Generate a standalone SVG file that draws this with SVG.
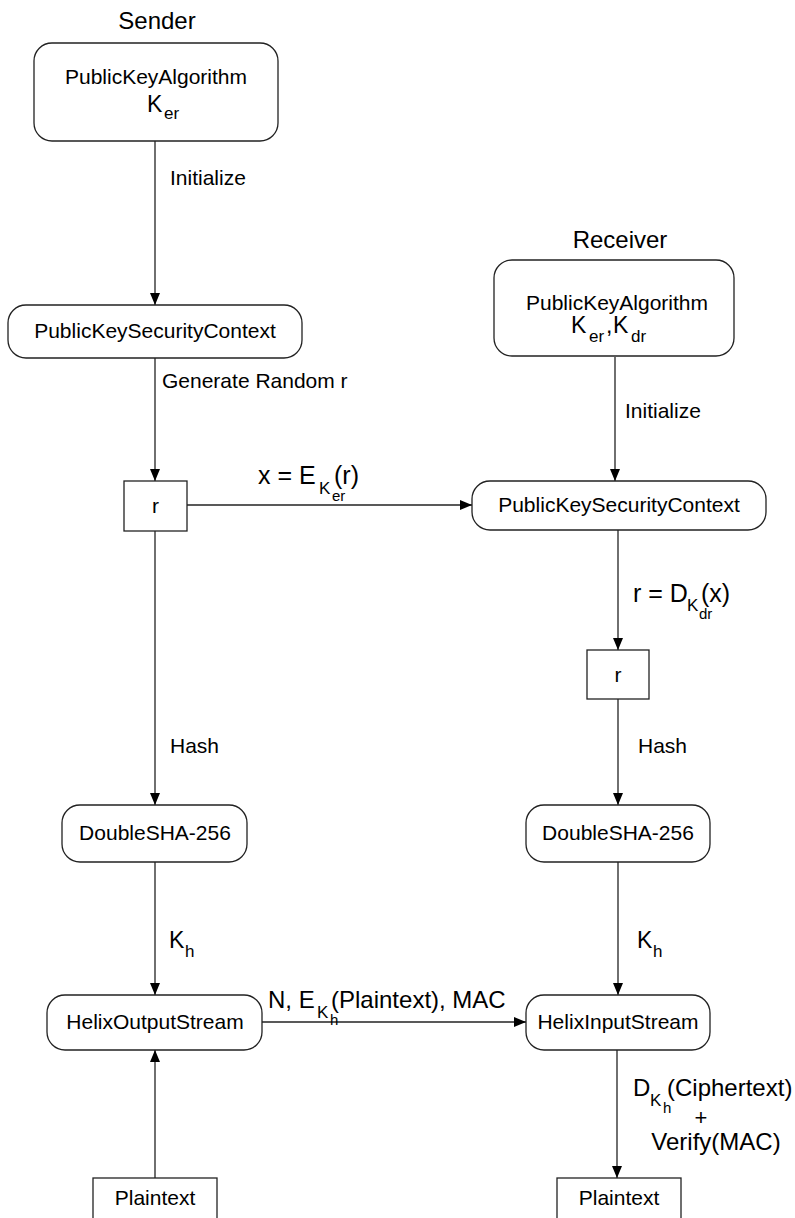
<svg xmlns="http://www.w3.org/2000/svg" width="795" height="1218" viewBox="0 0 795 1218">
<style>
  text{font-family:"Liberation Sans",Arial,sans-serif;fill:#000}
  .n{font-size:21px;text-anchor:middle}
  .lb{font-size:21px}
  .k{font-size:23px}
  .ttl{font-size:24px;text-anchor:middle}
  .f{font-size:24px}
  .s{font-size:17px}
  .ss{font-size:15px}
  .box{fill:#fff;stroke:#222;stroke-width:1.3}
  .ln{fill:none;stroke:#222;stroke-width:1.3}
</style>
<defs>
  <marker id="arr" viewBox="0 0 12 10" refX="12" refY="5" markerWidth="12" markerHeight="10" markerUnits="userSpaceOnUse" orient="auto">
    <path d="M0,0 L12,5 L0,10 Z" fill="#000"/>
  </marker>
</defs>

<text class="ttl" x="157" y="29">Sender</text>
<text class="ttl" x="620" y="248">Receiver</text>

<g id="connectors">
  <line class="ln" x1="155" y1="141" x2="155" y2="305" marker-end="url(#arr)"/>
  <text class="lb" x="170" y="185">Initialize</text>
  <line class="ln" x1="155" y1="358" x2="155" y2="481" marker-end="url(#arr)"/>
  <text class="lb" x="162" y="388">Generate Random r</text>
  <line class="ln" x1="187" y1="505" x2="472" y2="505" marker-end="url(#arr)"/>
  <text class="f" x="258" y="484" style="font-size:25px">x = E</text>
  <text class="s" x="319" y="494">K</text>
  <text class="ss" x="332" y="501">er</text>
  <text class="f" x="334" y="484" style="font-size:25px">(r)</text>
  <line class="ln" x1="615" y1="357" x2="615" y2="481" marker-end="url(#arr)"/>
  <text class="lb" x="625" y="418">Initialize</text>
  <line class="ln" x1="618" y1="530" x2="618" y2="650" marker-end="url(#arr)"/>
  <text class="f" x="633" y="602" style="font-size:25px">r = D</text>
  <text class="s" x="687" y="611">K</text>
  <text class="ss" x="699" y="619">dr</text>
  <text class="f" x="701" y="602" style="font-size:25px">(x)</text>
  <line class="ln" x1="618" y1="699" x2="618" y2="805" marker-end="url(#arr)"/>
  <text class="lb" x="638" y="753">Hash</text>
  <line class="ln" x1="155" y1="531" x2="155" y2="805" marker-end="url(#arr)"/>
  <text class="lb" x="170" y="753">Hash</text>
  <line class="ln" x1="155" y1="862" x2="155" y2="995" marker-end="url(#arr)"/>
  <text class="k" x="169" y="948">K</text>
  <text class="s" x="185" y="957">h</text>
  <line class="ln" x1="618" y1="862" x2="618" y2="995" marker-end="url(#arr)"/>
  <text class="k" x="637" y="948">K</text>
  <text class="s" x="653" y="957">h</text>
  <line class="ln" x1="262" y1="1022" x2="526" y2="1022" marker-end="url(#arr)"/>
  <text class="f" x="268" y="1008">N, E</text>
  <text class="s" x="317" y="1018">K</text>
  <text class="ss" x="330" y="1025">h</text>
  <text class="f" x="331" y="1008">(Plaintext), MAC</text>
  <line class="ln" x1="155" y1="1178" x2="155" y2="1050" marker-end="url(#arr)"/>
  <line class="ln" x1="617" y1="1050" x2="617" y2="1178" marker-end="url(#arr)"/>
  <text class="f" x="633" y="1096">D</text>
  <text class="s" x="650" y="1106">K</text>
  <text class="ss" x="663" y="1113">h</text>
  <text class="f" x="667" y="1096">(Ciphertext)</text>
  <text class="f" x="701" y="1125" text-anchor="middle" style="font-size:22px">+</text>
  <text class="f" x="716" y="1150" text-anchor="middle">Verify(MAC)</text>
</g>

<g id="sender-pka">
  <rect class="box" x="34" y="43" width="244" height="98" rx="18"/>
  <text class="n" x="156" y="84">PublicKeyAlgorithm</text>
  <text class="k" x="147" y="112">K</text>
  <text class="s" x="164" y="119">er</text>
</g>
<g id="sender-pksc">
  <rect class="box" x="8" y="305" width="294" height="53" rx="18"/>
  <text class="n" x="155" y="338">PublicKeySecurityContext</text>
</g>
<g id="sender-r">
  <rect class="box" x="124" y="481" width="63" height="50"/>
  <text class="n" x="155.5" y="513">r</text>
</g>
<g id="receiver-pka">
  <rect class="box" x="494" y="260" width="240" height="96" rx="18"/>
  <text class="n" x="617" y="310">PublicKeyAlgorithm</text>
  <text class="k" x="571" y="333">K</text>
  <text class="s" x="589" y="342">er</text>
  <text class="k" x="606" y="333">,</text>
  <text class="k" x="613" y="333">K</text>
  <text class="s" x="631" y="342">dr</text>
</g>
<g id="receiver-pksc">
  <rect class="box" x="472" y="481" width="294" height="49" rx="18"/>
  <text class="n" x="619" y="512">PublicKeySecurityContext</text>
</g>
<g id="receiver-r">
  <rect class="box" x="587" y="650" width="62" height="49"/>
  <text class="n" x="618" y="682">r</text>
</g>
<g id="sender-sha">
  <rect class="box" x="62" y="805" width="185" height="57" rx="18"/>
  <text class="n" x="155" y="840">DoubleSHA-256</text>
</g>
<g id="receiver-sha">
  <rect class="box" x="526" y="805" width="184" height="57" rx="18"/>
  <text class="n" x="618" y="840">DoubleSHA-256</text>
</g>
<g id="helix-out">
  <rect class="box" x="47" y="995" width="215" height="55" rx="18"/>
  <text class="n" x="155" y="1029">HelixOutputStream</text>
</g>
<g id="helix-in">
  <rect class="box" x="526" y="995" width="184" height="55" rx="18"/>
  <text class="n" x="618" y="1029">HelixInputStream</text>
</g>
<g id="plain-left">
  <rect class="box" x="93" y="1178" width="124" height="60"/>
  <text class="n" x="155" y="1205">Plaintext</text>
</g>
<g id="plain-right">
  <rect class="box" x="557" y="1178" width="124" height="60"/>
  <text class="n" x="619" y="1205">Plaintext</text>
</g>
</svg>
